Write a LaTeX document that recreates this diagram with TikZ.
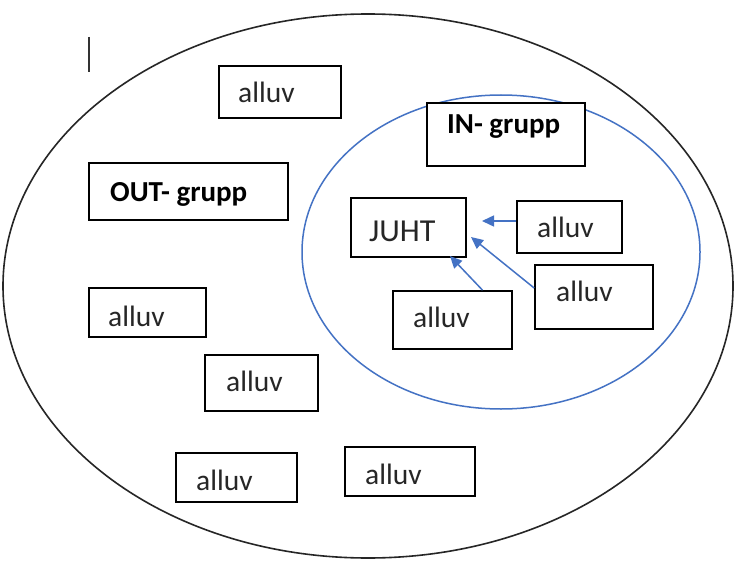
\documentclass[tikz,border=0pt]{standalone}
\usepackage{fontspec}
\setmainfont{Carlito}
\usetikzlibrary{arrows.meta}
\definecolor{inblue}{HTML}{4472C4}
\tikzset{
  box/.style={draw=black, line width=1.7pt, fill=white, inner sep=0pt},
  txt/.style={anchor=base west, inner sep=0pt, text=black!85, font=\fontsize{29.5}{32}\selectfont},
  btxt/.style={anchor=base west, inner sep=0pt, font=\fontsize{29}{32}\selectfont\bfseries},
  arr/.style={draw=inblue, line width=1.5pt, -{Triangle[length=12pt,width=11pt]}}
}
\newcommand{\bx}[5]{\node[box, minimum width=#3-#1, minimum height=#4-#2] (#5) at ({(#1+#3)/2},{(#2+#4)/2}) {};}
\begin{document}
\begin{tikzpicture}[x=1pt,y=-1pt]
\useasboundingbox (0,0) rectangle (735,561);
\fill[white] (0,0) rectangle (735,561);
% outer and inner groups
\draw[line width=1.6pt, black!85] (368,286) ellipse [x radius=365, y radius=272];
\draw[line width=1.5pt, inblue] (501,252) ellipse [x radius=199, y radius=157];
% cursor mark
\draw[line width=1.3pt, black!80] (89,37) -- (89,72);
% boxes
\bx{219}{66}{341}{118}{a1}
\bx{427}{103}{585}{166}{ingr}
\bx{89}{163}{288}{220}{outgr}
\bx{351}{198}{466}{257}{juht}
\bx{517}{201}{622}{253}{r1}
\bx{535}{265}{653}{329}{r2}
\bx{393}{291}{512}{349}{b1}
\bx{89}{288}{206}{337}{a2}
\bx{205}{355}{318}{411}{a3}
\bx{176}{453}{297}{502}{a4}
\bx{345}{447}{475}{496}{a5}
% texts
\node[txt] at (238,103) {alluv};
\node[btxt] at (447,134) {IN- grupp};
\node[btxt] at (110,202) {OUT- grupp};
\node[txt, font=\fontsize{32}{34}\selectfont] at (369,241) {JUHT};
\node[txt] at (537,237) {alluv};
\node[txt] at (556,301) {alluv};
\node[txt] at (413,327) {alluv};
\node[txt] at (108,326) {alluv};
\node[txt] at (226,391) {alluv};
\node[txt] at (196,490) {alluv};
\node[txt] at (365,484) {alluv};
% arrows
\coordinate (t1) at (482,221);
\coordinate (t2) at (471,237);
\coordinate (t3) at (450,256);
\draw[arr] ([yshift=6pt]r1.west) -- (t1);
\draw[arr] ([yshift=9pt]r2.west) -- (t2);
\draw[arr] ([xshift=30pt]b1.north) -- (t3);
\end{tikzpicture}
\end{document}
